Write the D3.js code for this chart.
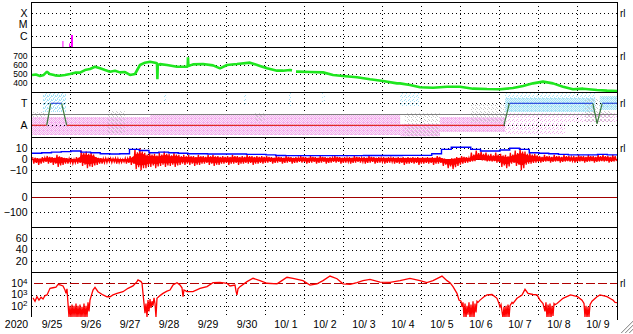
<!DOCTYPE html>
<html><head><meta charset="utf-8">
<script src="https://cdn.jsdelivr.net/npm/d3@7"></script>
<style>
html,body{margin:0;padding:0;background:#fff;}
svg{display:block;font-family:"Liberation Sans",Arial,Helvetica,sans-serif;}
</style></head><body>
<svg id="chart" width="633" height="334"></svg>
<script>
// ---------------- DATA ----------------
const yearLabel = "2020";
const dayLabels = ["9/25","9/26","9/27","9/28","9/29","9/30","10/ 1","10/ 2","10/ 3","10/ 4","10/ 5","10/ 6","10/ 7","10/ 8","10/ 9"];
const flareTickValues = [1e-4, 1e-5, 1e-6];
const flareTickLabels = ["X", "M", "C"];
const speedTicks = [700, 600, 500, 400];
const sectorTickValues = [1, -1];
const sectorTickLabels = ["T", "A"];
const imfTicks = [10, 0, -10];
const dstTicks = [0, -100];
const panel6Ticks = [60, 40, 20];
const fluxTicks = [1e4, 1e3, 1e2];

// x-ray flares: [start day, end day, peak flux W/m2]
const flares = [[0.78, 0.80, 3.4e-7], [0.952, 0.962, 2.1e-7], [1.0, 1.05, 1.17e-6]];

// solar wind speed km/s : [day, value]
const windSpeed = [
[0,489],[0.1,495],[0.205,478],[0.3,490],[0.385,526],[0.45,500],[0.59,485],[0.7,480],[0.846,488],[0.974,500],
[1.103,515],[1.231,515],[1.359,544],[1.487,555],[1.615,581],[1.744,563],[1.872,544],[2.0,526],[2.128,537],[2.256,518],
[2.385,522],[2.513,489],[2.641,500],[2.769,600],[2.897,626],[3.026,637],[3.154,626],[3.205,619],[3.215,441],[3.225,600],
[3.282,610],[3.462,600],[3.718,581],[3.872,581],[3.99,581],[4.0,685],[4.01,590],[4.128,607],[4.385,611],[4.641,596],
[4.821,563],[5.0,600],[5.256,611],[5.59,626],[5.846,589],[6.026,563],[6.282,537],[6.436,537],[6.615,544],[6.667,540],
[6.7,null],[6.769,526],[6.795,526],[7.128,522],[7.462,518],[7.718,489],[7.974,478],[8.333,463],[8.667,441],[9.0,422],
[9.359,396],[9.436,396],[9.692,378],[9.949,352],[10.282,348],[10.641,359],[10.974,359],[11.308,337],[11.667,333],[12.0,330],
[12.333,344],[12.59,367],[12.846,396],[13.103,415],[13.359,396],[13.615,359],[13.872,330],[14.128,337],[14.487,322],[14.744,315],[15,311]
];

// IMF sector polarity (+1 toward, -1 away) : [day, polarity]
const sectorPolarity = [[0,-1],[0.377,-1],[0.48,1],[0.76,1],[0.89,-1],[12.1,-1],[12.24,1],[14.38,1],[14.49,-0.85],[14.62,1],[15,1]];

// IMF angle point clouds: kind, start day, end day, upper, lower, density (2 dense, 1 medium, 0 sparse)
const cloudKind  = ["G","P","B","G","P","B","B","G","B","B","P","G","B","P","G","B","B","P","G","B","P"];
const cloudStart = [0,0,0.28,1.95,3.03,3.36,5.44,5.72,6.59,7.44,9.44,9.56,9.44,10.46,11.23,12.13,12.13,12.13,14.18,14.56,13.67];
const cloudEnd   = [0.33,3.03,0.87,2.38,9.44,3.44,5.49,5.97,6.64,7.51,10.46,10.46,9.95,12.13,12.13,14.44,14.44,13.67,14.87,15,15];
const cloudHigh  = [0.2,-0.25,1.94,0.4,0.03,1.94,1.85,0.1,1.94,1.94,-0.88,0.1,1.94,-0.25,0.94,1.48,1.94,0.1,1.48,1.66,0.1];
const cloudLow   = [-1.9,-1.88,0.21,-1.7,-1.88,1.0,0.9,-0.6,0.75,0.94,-2.0,-2.0,0.75,-1.61,-0.7,0.21,1.48,-1.88,-0.7,0.39,-0.8];
const cloudDense = [0,2,1,0,2,0,0,0,0,0,2,0,0,2,0,2,0,0,0,2,0];

// IMF Bt (nT), 6-hour values
const btValues = [
5.5,6,6.5,7, 7.5,6.5,6,5, 4.8,5,9,8, 6,6.5,6,5.5, 5,5,4.8,4.8,
4.8,4.8,4.5,4.5, 4,3.5,3.3,3.3, 3.3,3.3,3.3,3.3, 3.3,3.3,3.5,3.5, 3.5,3.5,3.6,3.6,
3.6,5,9,11, 11,9,7.5,7.5, 8.5,10,9,6, 5.5,5,4.5,4, 4,4,4.5,4];

// IMF Bz (nT), 3-hour high / low
const bzHigh = [
2,1,2,3,2,4,2,1, 0,2,8,7,6,2,1,1, 1,1,0,1,3,9,10,6, 6,5,6,7,5,6,4,4, 4,3,4,3,4,4,3,3,
3,4,3,3,4,3,3,3, 3,2,3,2,3,2,2,3, 2,3,2,3,2,2,3,2, 2,2,3,2,2,3,2,2, 2,2,2,2,2,2,2,2,
2,2,2,3,1,0,1,2, 3,2,6,8,7,6,5,6, 5,4,6,8,10,7,6,5, 3,4,3,4,3,4,3,3, 4,3,4,3,4,4,3,4];
const bzLow = [
-4,-5,-3,-4,-5,-7,-5,-4, -4,-4,-6,-8,-7,-5,-4,-3, -3,-4,-3,-4,-5,-9,-10,-8, -7,-8,-6,-7,-6,-7,-5,-5, -5,-6,-5,-4,-5,-6,-5,-4,
-5,-4,-5,-4,-4,-5,-4,-4, -3,-4,-3,-4,-3,-4,-3,-3, -4,-3,-4,-3,-4,-3,-3,-4, -3,-4,-3,-3,-4,-3,-4,-3, -4,-3,-4,-4,-5,-4,-4,-5,
-4,-4,-5,-4,-6,-8,-9,-6, -4,-3,-2,0,-1,-2,-2,-3, -7,-8,-4,-6,-10,-5,-4,-3, -3,-2,-3,-2,-3,-2,-2,-3, -2,-3,-2,-3,-2,-2,-3,-2];

// >2 MeV electron flux, log10 : [day, log10 flux]
const electronLog10 = [
[0.026,2.7],[0.077,2.4],[0.128,2.8],[0.179,2.5],[0.231,2.75],[0.282,2.6],[0.333,2.9],[0.385,2.96],[0.462,3.55],[0.538,3.6],
[0.615,3.65],[0.667,3.9],[0.718,3.85],[0.795,3.76],[0.846,3.4],[0.872,3.1],[0.897,3.5],[0.923,2.2],[0.949,1.0],[0.974,2.0],
[1.0,0.9],[1.026,2.1],[1.051,1.0],[1.077,2.0],[1.103,1.0],[1.128,2.2],[1.154,0.9],[1.179,2.0],[1.205,1.0],[1.231,2.1],
[1.256,0.9],[1.282,1.9],[1.308,1.0],[1.333,2.2],[1.359,0.9],[1.385,2.0],[1.41,1.0],[1.436,2.3],[1.462,1.5],[1.487,2.5],
[1.564,3.4],[1.615,3.64],[1.692,3.25],[1.821,2.96],[1.923,2.8],[2.0,2.8],[2.077,2.96],[2.179,3.1],[2.333,3.25],[2.462,3.55],
[2.59,3.76],[2.692,4.14],[2.718,4.3],[2.795,4.15],[2.821,4.0],[2.846,3.1],[2.897,1.35],[2.923,2.2],[2.949,1.0],[2.974,2.5],
[3.0,1.5],[3.026,2.6],[3.051,1.8],[3.077,2.4],[3.103,2.0],[3.128,2.7],[3.154,2.2],[3.179,1.0],[3.205,2.66],[3.282,2.9],
[3.359,3.1],[3.462,3.3],[3.538,3.4],[3.615,3.84],[3.718,4.05],[3.795,3.84],[3.846,3.6],[3.872,2.8],[3.897,3.4],[3.974,3.25],
[4.128,3.25],[4.308,3.55],[4.487,3.7],[4.641,4.05],[4.821,4.08],[5.0,4.0],[5.077,3.76],[5.205,3.84],[5.231,3.3],[5.256,2.96],
[5.282,3.5],[5.333,3.7],[5.513,4.14],[5.667,4.44],[5.846,4.23],[6.026,4.0],[6.282,3.95],[6.436,4.3],[6.538,4.53],[6.692,4.44],
[6.949,4.23],[7.128,3.84],[7.308,3.95],[7.462,4.23],[7.641,4.64],[7.821,4.4],[7.974,3.95],[8.154,3.9],[8.333,4.05],[8.487,4.23],
[8.667,4.35],[8.923,4.1],[9.179,4.08],[9.436,4.23],[9.692,4.44],[9.949,4.23],[10.128,4.05],[10.282,4.23],[10.513,4.64],[10.641,4.23],
[10.718,4.05],[10.795,3.7],[10.897,3.1],[10.949,2.5],[11.0,2.4],[11.026,1.9],[11.051,2.3],[11.077,1.0],[11.103,2.2],[11.128,0.9],
[11.154,2.0],[11.179,1.2],[11.205,2.3],[11.231,0.9],[11.256,2.1],[11.282,1.0],[11.308,2.4],[11.333,0.9],[11.359,2.2],[11.385,1.4],
[11.41,2.4],[11.436,2.3],[11.487,2.5],[11.59,2.8],[11.667,2.96],[11.795,3.0],[11.872,2.8],[11.923,2.66],[11.974,2.2],[12.0,1.9],
[12.026,2.1],[12.077,0.9],[12.103,1.9],[12.128,0.9],[12.154,2.0],[12.179,1.0],[12.205,2.1],[12.231,0.9],[12.256,2.0],[12.308,2.3],
[12.333,2.2],[12.436,2.66],[12.564,2.96],[12.641,3.46],[12.718,3.1],[12.846,3.0],[12.949,2.96],[13.026,2.5],[13.103,2.2],[13.154,1.5],
[13.179,2.3],[13.205,0.9],[13.231,2.1],[13.256,1.0],[13.282,2.2],[13.308,0.9],[13.333,2.0],[13.359,1.1],[13.385,2.2],[13.41,2.1],
[13.462,2.2],[13.615,2.66],[13.808,2.96],[13.987,2.81],[14.103,2.5],[14.154,2.2],[14.179,1.0],[14.205,2.0],[14.231,0.9],[14.256,1.9],
[14.282,1.0],[14.308,2.1],[14.359,2.4],[14.487,2.8],[14.564,2.96],[14.744,2.81],[14.846,2.6],[14.897,2.5],[14.949,2.3],[15.0,2.27]
];

// ---------------- LAYOUT ----------------
const L = 32, R = 617, PH = 45;
const tops = [2, 47, 92, 137, 182, 227, 272];
const BOTTOM = 317;
const FONT = 10.5;
const svg = d3.select("#chart");
const defs = svg.append("defs");

const x = d3.scaleLinear().domain([0, 15]).range([L, R]);
const yFlare = d3.scaleLog().domain([1e-7, 1e-3]).range([47, 2]);
const ySpeed = d3.scaleLinear().domain([300, 800]).range([92, 47]);
const ySector = d3.scaleLinear().domain([-2, 2]).range([136.3, 92.3]);
const yB = d3.scaleLinear().domain([-20, 20]).range([181.3, 137.3]);
const yDst = d3.scaleLinear().domain([-200, 100]).range([227, 182]);
const yP6 = d3.scaleLinear().domain([0, 80]).range([272, 227]);
const yFlux = d3.scaleLog().domain([10, 1e5]).range([BOTTOM, 272]);

tops.forEach((t, i) => {
  defs.append("clipPath").attr("id", "clip" + i)
    .append("rect").attr("x", L).attr("y", t).attr("width", R - L).attr("height", PH);
});

// patterns for scattered IMF angle points
const patternCells = {
  dense: [[0,0],[2,0],[1,1],[3,1],[0,2],[2,2],[1,3],[3,3],[3,2]],
  medium: [[0,0],[2,1],[1,2],[3,3],[3,0],[1,3]],
  sparse: [[0,0],[2,1],[1,3]],
  gray: [[1,0],[3,1],[0,3]]
};
const cloudColor = {P: "#f3aeee", B: "#a4e1f6", G: "#c8c8c8"};
const cloudBase = {P: "#fbe6f9", B: "#e2f6fc"};
function makePattern(id, color, cells, base) {
  const p = defs.append("pattern").attr("id", id).attr("patternUnits", "userSpaceOnUse")
    .attr("width", 4).attr("height", 4);
  if (base) p.append("rect").attr("width", 4).attr("height", 4).attr("fill", base);
  cells.forEach(c => p.append("rect").attr("x", c[0]).attr("y", c[1]).attr("width", 1).attr("height", 1).attr("fill", color));
}
makePattern("p2", cloudColor.P, patternCells.dense, cloudBase.P);
makePattern("p1", cloudColor.P, patternCells.medium);
makePattern("p0", cloudColor.P, patternCells.sparse);
makePattern("b2", cloudColor.B, patternCells.dense, cloudBase.B);
makePattern("b1", cloudColor.B, patternCells.medium);
makePattern("b0", cloudColor.B, patternCells.sparse);
makePattern("g0", cloudColor.G, patternCells.gray);

const gridG = svg.append("g").attr("shape-rendering", "crispEdges");
const dataG = svg.append("g");
const frameG = svg.append("g").attr("shape-rendering", "crispEdges");

// ---------- grid ----------
function hDotted(y) {
  gridG.append("line").attr("x1", L).attr("x2", R).attr("y1", Math.round(y) + 0.5).attr("y2", Math.round(y) + 0.5)
    .attr("stroke", "#000").attr("stroke-dasharray", "1,3");
}
for (let d = 1; d < 15; d++) {
  const xx = Math.round(x(d)) - 0.5;
  gridG.append("line").attr("x1", xx).attr("x2", xx).attr("y1", tops[0]).attr("y2", BOTTOM)
    .attr("stroke", "#000").attr("stroke-dasharray", "1,3");
}
flareTickValues.forEach(v => hDotted(yFlare(v)));
speedTicks.forEach(v => hDotted(ySpeed(v)));
[10, -10].forEach(v => hDotted(yB(v)));
[-100].forEach(v => hDotted(yDst(v)));
panel6Ticks.forEach(v => hDotted(yP6(v)));
[1e3, 1e2].forEach(v => hDotted(yFlux(v)));

// ---------- panel 1: flares ----------
dataG.append("g").attr("clip-path", "url(#clip0)").selectAll("rect").data(flares).join("rect")
  .attr("x", d => x(d[0])).attr("width", d => Math.max(1, x(d[1]) - x(d[0])))
  .attr("y", d => yFlare(d[2])).attr("height", d => 47 - yFlare(d[2]))
  .attr("fill", "#ff00ff");

// ---------- panel 2: wind speed ----------
dataG.append("path").attr("clip-path", "url(#clip1)")
  .datum(windSpeed)
  .attr("d", d3.line().defined(d => d[1] != null).x(d => x(d[0])).y(d => ySpeed(d[1])))
  .attr("fill", "none").attr("stroke", "#1fe61f").attr("stroke-width", 2.6).attr("stroke-linejoin", "bevel");

// ---------- panel 3: sector ----------
const sg = dataG.append("g").attr("clip-path", "url(#clip2)");
cloudKind.forEach((k, i) => {
  const fill = "url(#" + k.toLowerCase() + (k === "G" ? 0 : cloudDense[i]) + ")";
  sg.append("rect").attr("x", x(cloudStart[i])).attr("width", x(cloudEnd[i]) - x(cloudStart[i]))
    .attr("y", ySector(cloudHigh[i])).attr("height", ySector(cloudLow[i]) - ySector(cloudHigh[i]))
    .attr("fill", fill);
});
sectorTickValues.forEach(v => {
  sg.append("line").attr("x1", L).attr("x2", R).attr("y1", Math.round(ySector(v)) + 0.5).attr("y2", Math.round(ySector(v)) + 0.5)
    .attr("stroke", "#000").attr("stroke-dasharray", "1,3").attr("shape-rendering", "crispEdges");
});
sg.append("line").attr("x1", L).attr("x2", R).attr("y1", Math.round(ySector(0)) + 0.5).attr("y2", Math.round(ySector(0)) + 0.5)
  .attr("stroke", "#7f7f7f").attr("stroke-width", 1).attr("shape-rendering", "crispEdges");
for (let i = 0; i < sectorPolarity.length - 1; i++) {
  const a = sectorPolarity[i], b = sectorPolarity[i + 1];
  let col = "#3c7a3c";
  if (a[1] <= -0.8 && b[1] <= -0.8) col = "#e02828";
  else if (a[1] >= 0.8 && b[1] >= 0.8) col = "#3452e0";
  sg.append("line").attr("x1", x(a[0])).attr("x2", x(b[0]))
    .attr("y1", ySector(a[1])).attr("y2", ySector(b[1]))
    .attr("stroke", col).attr("stroke-width", 1.2);
}

// ---------- panel 4: IMF ----------
const bg = dataG.append("g").attr("clip-path", "url(#clip3)");
bg.append("line").attr("x1", L).attr("x2", R).attr("y1", Math.round(yB(0)) + 0.5).attr("y2", Math.round(yB(0)) + 0.5)
  .attr("stroke", "#a00000").attr("shape-rendering", "crispEdges");
bg.append("path").datum(bzHigh.map((h, i) => [(i + 0.5) / 8, h, bzLow[i]]))
  .attr("d", d3.area().curve(d3.curveMonotoneX).x(d => x(d[0])).y0(d => yB(d[2] * 0.55)).y1(d => yB(d[1] * 0.55)))
  .attr("fill", "#ff0000");
const bzPts = [];
bzHigh.forEach((h, i) => {
  const c = (i + 0.5) / 8, w = 1 / 8;
  bzPts.push([c - 3 * w / 8, h], [c - w / 8, bzLow[i]], [c + w / 8, h * 0.7], [c + 3 * w / 8, bzLow[i] * 0.8]);
});
bg.append("path").datum(bzPts)
  .attr("d", d3.line().x(d => x(d[0])).y(d => yB(d[1])))
  .attr("fill", "none").attr("stroke", "#ff0000").attr("stroke-width", 1.3);
const btPts = btValues.map((v, i) => [i / 4, v]);
btPts.push([15, btValues[btValues.length - 1]]);
bg.append("path").datum(btPts)
  .attr("d", d3.line().curve(d3.curveStepAfter).x(d => x(d[0])).y(d => yB(d[1])))
  .attr("fill", "none").attr("stroke", "#0000ff").attr("stroke-width", 1.4);

// ---------- panel 5: Dst zero ----------
dataG.append("line").attr("x1", L).attr("x2", R).attr("y1", Math.round(yDst(0)) + 0.5).attr("y2", Math.round(yDst(0)) + 0.5)
  .attr("stroke", "#a00000").attr("stroke-width", 1.2).attr("shape-rendering", "crispEdges");

// ---------- panel 7: electrons ----------
const eg = dataG.append("g").attr("clip-path", "url(#clip6)");
eg.append("line").attr("x1", L + 2).attr("x2", R).attr("y1", Math.round(yFlux(1e4)) + 0.5).attr("y2", Math.round(yFlux(1e4)) + 0.5)
  .attr("stroke", "#b00000").attr("stroke-width", 1.2).attr("stroke-dasharray", "9,3");
eg.append("path").datum(electronLog10)
  .attr("d", d3.line().x(d => x(d[0])).y(d => yFlux(Math.pow(10, d[1]))))
  .attr("fill", "none").attr("stroke", "#ff0000").attr("stroke-width", 1.3);

// ---------- frame ----------
tops.forEach(t => {
  frameG.append("line").attr("x1", L).attr("x2", R + 1).attr("y1", t + 0.5).attr("y2", t + 0.5).attr("stroke", "#000");
});
frameG.append("line").attr("x1", L - 0.5).attr("x2", L - 0.5).attr("y1", tops[0]).attr("y2", BOTTOM).attr("stroke", "#000");
frameG.append("line").attr("x1", R + 0.5).attr("x2", R + 0.5).attr("y1", tops[0]).attr("y2", BOTTOM + 3).attr("stroke", "#000");

// ---------- axes (labels) ----------
function leftAxis(scale, vals, fmt, size) {
  const g = svg.append("g").attr("transform", `translate(${L},0)`)
    .call(d3.axisLeft(scale).tickValues(vals).tickSize(0).tickPadding(4.5).tickFormat(fmt));
  g.select(".domain").remove();
  g.selectAll("text").attr("font-size", size || FONT).attr("font-family", null).attr("fill", "#000");
  return g;
}
leftAxis(yFlare, flareTickValues, (d, i) => flareTickLabels[i]);
const sp = leftAxis(ySpeed, speedTicks, d3.format("d"), 8.6);
sp.selectAll("text").attr("dy", "0.3em");
leftAxis(ySector, sectorTickValues, (d, i) => sectorTickLabels[i]);
leftAxis(yB, imfTicks, d3.format("d"));
leftAxis(yDst, dstTicks, d3.format("d"));
leftAxis(yP6, panel6Ticks, d3.format("d"));
const fg = leftAxis(yFlux, fluxTicks, d => "");
fg.selectAll("text").each(function (d) {
  const t = d3.select(this);
  t.text("10");
  t.append("tspan").attr("dy", "-0.45em").attr("font-size", 8).text(Math.round(Math.log10(d)));
});

// bottom axis
const bx = svg.append("g").attr("transform", `translate(0,${BOTTOM})`)
  .call(d3.axisBottom(x).tickValues(d3.range(15).map(i => i + 0.5)).tickSize(0).tickPadding(3.5)
    .tickFormat((d, i) => dayLabels[i]));
bx.select(".domain").remove();
bx.selectAll("text").attr("font-size", FONT).attr("font-family", null).attr("fill", "#000");
svg.append("text").attr("x", 16.5).attr("y", BOTTOM + 3.5).attr("dy", "0.71em").attr("text-anchor", "middle")
  .attr("font-size", FONT).text(yearLabel);

// right-side markers
[yFlare(1e-4), ySpeed(700), ySector(1), yB(10), yFlux(1e4)].forEach(yy => {
  svg.append("text").attr("x", 620).attr("y", yy).attr("dy", "0.35em").attr("font-size", 10).text("rl");
});

// window resize grip
const grip = svg.append("g");
[[621, 333, 633, 321], [625, 333, 633, 325], [629, 333, 633, 329]].forEach(s => {
  grip.append("line").attr("x1", s[0]).attr("y1", s[1]).attr("x2", s[2]).attr("y2", s[3]).attr("stroke", "#9a9a9a").attr("stroke-width", 1);
  grip.append("line").attr("x1", s[0] + 1).attr("y1", s[1]).attr("x2", s[2]).attr("y2", s[3] + 1).attr("stroke", "#e0e0e0").attr("stroke-width", 1);
});
</script>
</body></html>
